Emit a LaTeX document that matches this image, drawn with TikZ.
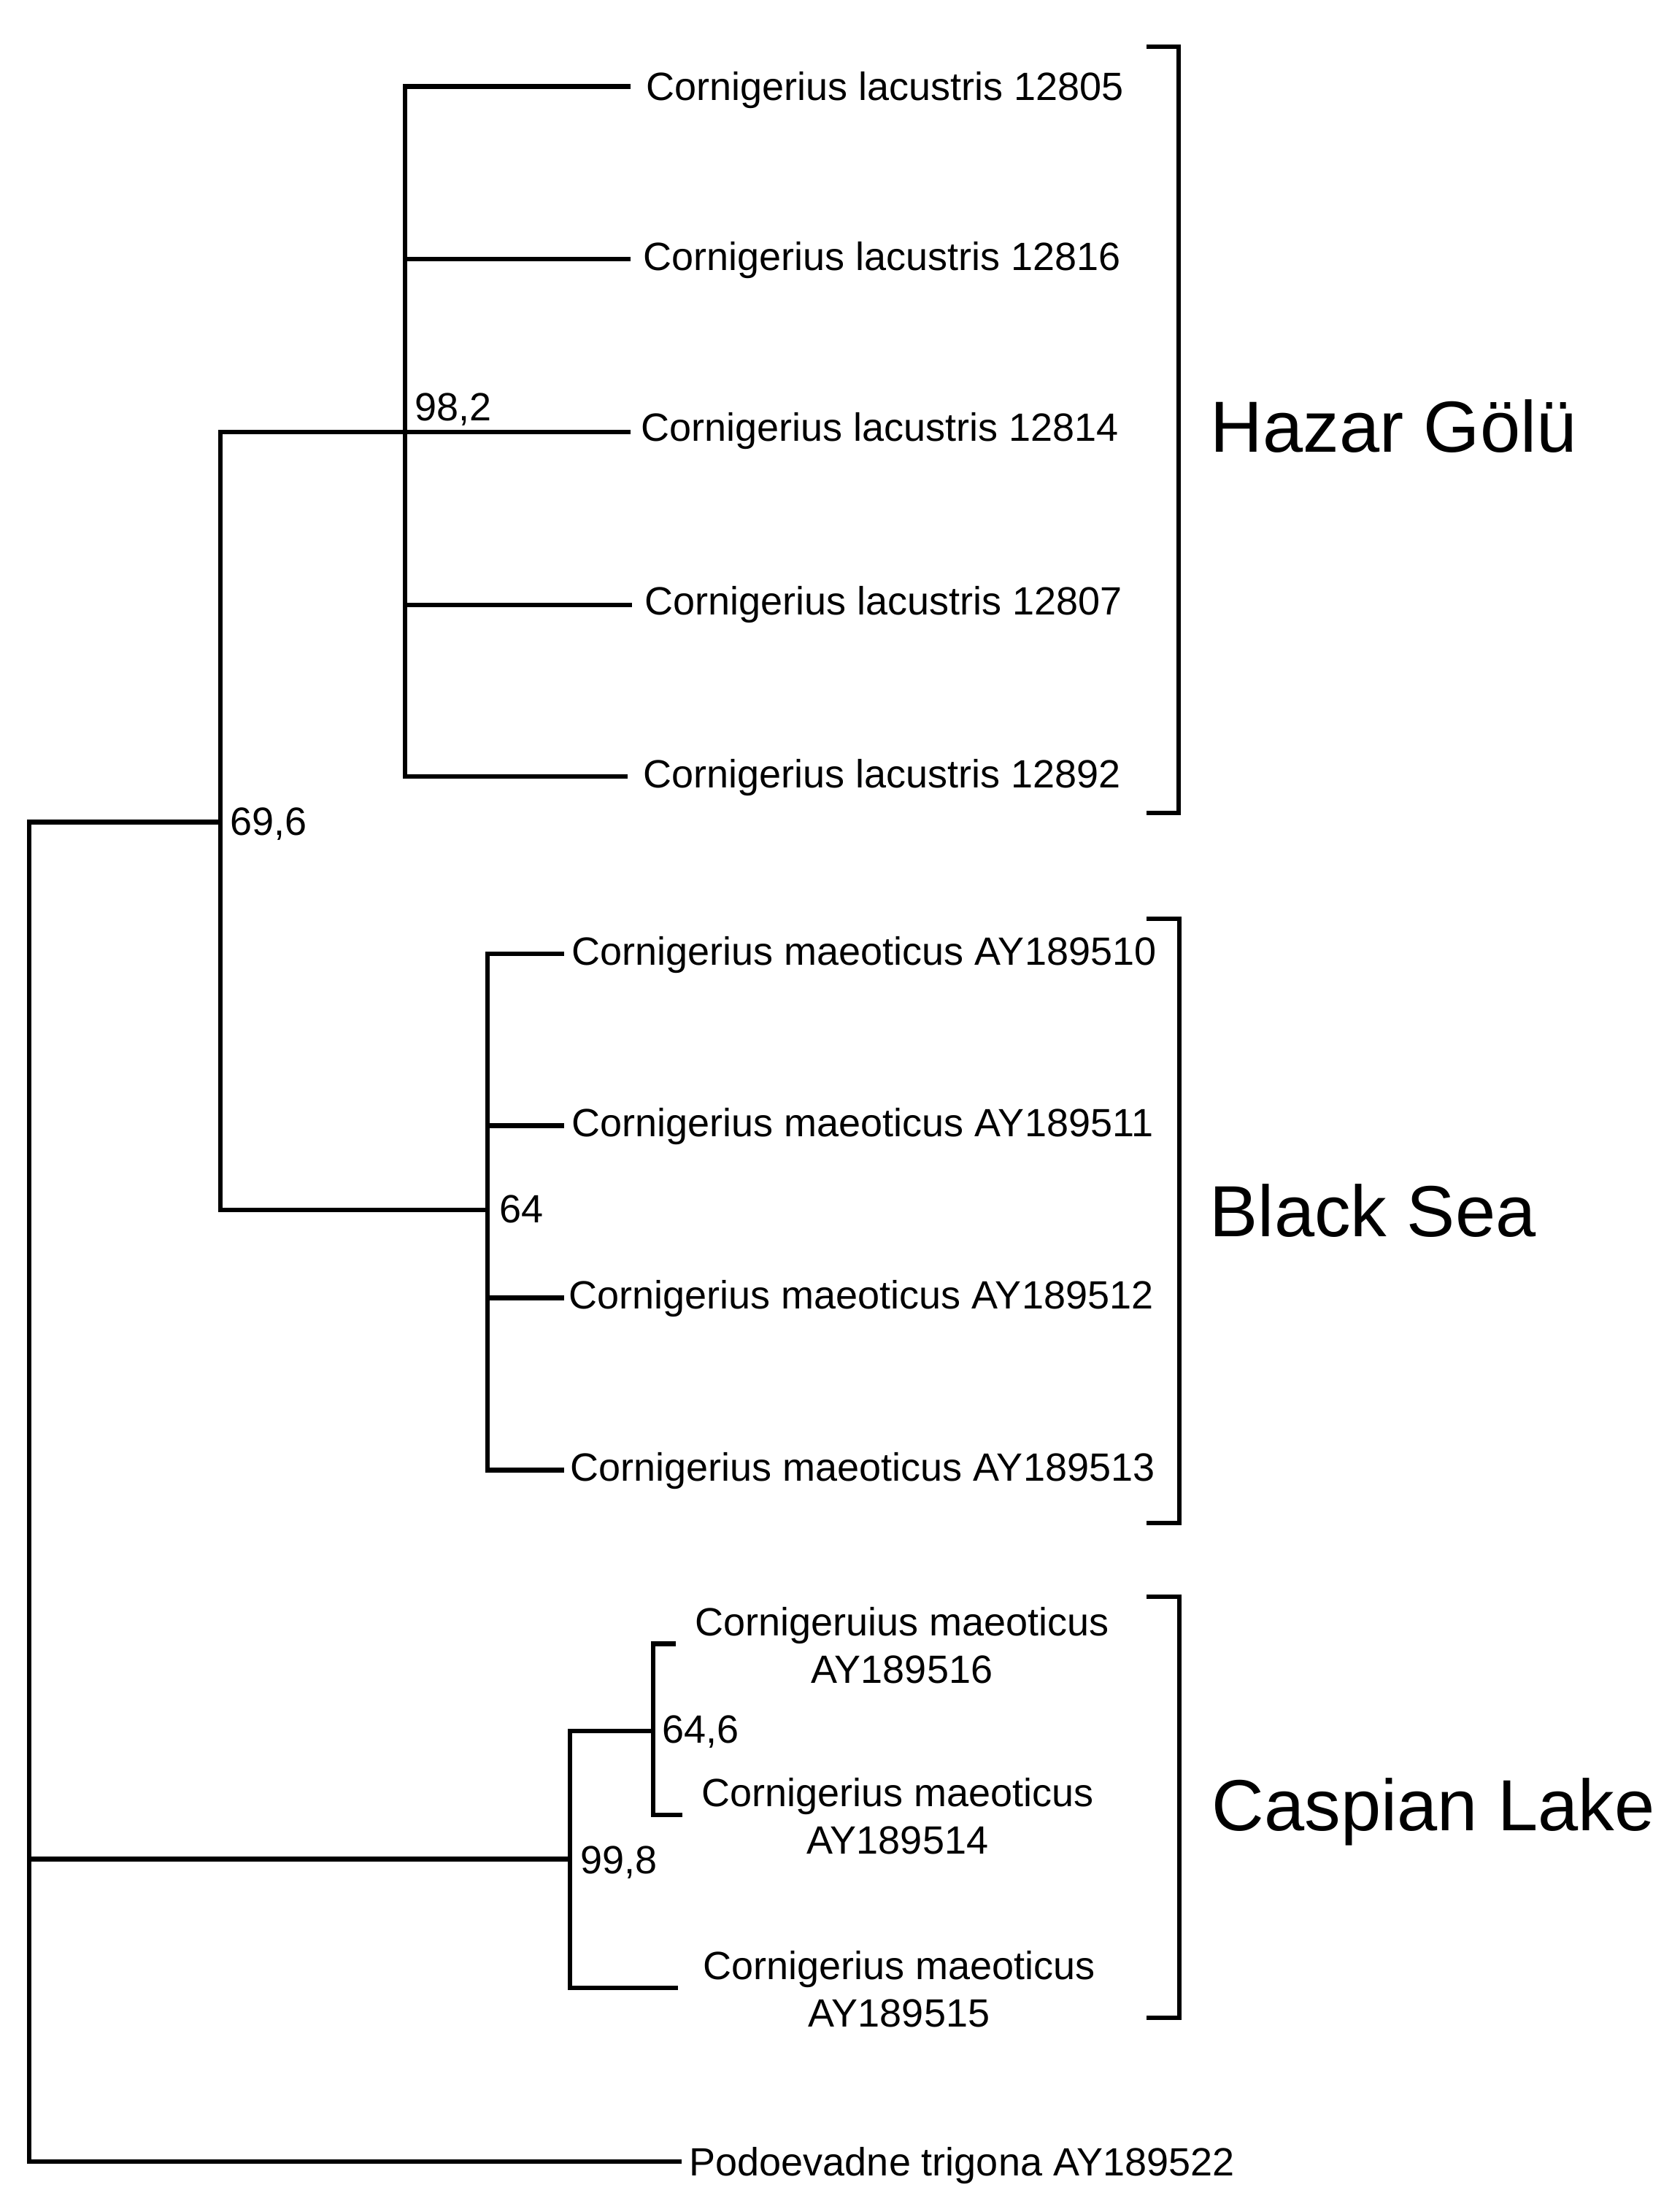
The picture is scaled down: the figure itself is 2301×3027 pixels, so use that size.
\documentclass[tikz,border=0pt]{standalone}
\usepackage{fontspec}
\setmainfont{Liberation Sans}
\newcommand\leaffont{\fontsize{13.5pt}{16.25pt}\selectfont}
\newcommand\grpfont{\fontsize{24.8pt}{29pt}\selectfont}
\tikzset{
  branch/.style={line width=1.6pt, line join=miter},
  brk/.style={line width=1.5pt, line join=miter},
  leaf/.style={anchor=base west, inner sep=0pt, font=\leaffont},
  leaftwo/.style={anchor=center, align=center, inner sep=0pt, font=\leaffont},
  boot/.style={anchor=base west, inner sep=0pt, font=\leaffont},
  grp/.style={anchor=base west, inner sep=0pt, font=\grpfont},
}
\begin{document}
\begin{tikzpicture}[x=0.25pt, y=-0.25pt]
\fill[white] (0,0) rectangle (2301,3027);
\useasboundingbox (0,0) rectangle (2301,3027);

% internal nodes
\coordinate (R) at (40,2547.5);
\coordinate (A) at (302,1126.5);
\coordinate (B) at (555,592);
\coordinate (C) at (668,1658);
\coordinate (D) at (781,2547.5);
\coordinate (E) at (895,2372);
% leaf tips
\coordinate (t1) at (864,118.6);
\coordinate (t2) at (864,355);
\coordinate (t3) at (864,592);
\coordinate (t4) at (866,828.8);
\coordinate (t5) at (860,1063.8);
\coordinate (t6) at (773,1307);
\coordinate (t7) at (773,1542.5);
\coordinate (t8) at (773,1778.5);
\coordinate (t9) at (773,2014.5);
\coordinate (t10) at (926,2252.5);
\coordinate (t11) at (935,2487.2);
\coordinate (t12) at (929,2723.7);
\coordinate (t13) at (934,2962);

% branches
\draw[branch] (R) |- (A);
\draw[branch] (R) -- (D);
\draw[branch] (R) |- (t13);
\draw[branch] (A) |- (B);
\draw[branch] (A) |- (C);
\draw[branch] (B) |- (t1);
\draw[branch] (B) |- (t2);
\draw[branch] (B) -- (t3);
\draw[branch] (B) |- (t4);
\draw[branch] (B) |- (t5);
\draw[branch] (C) |- (t6);
\draw[branch] (C) |- (t7);
\draw[branch] (C) |- (t8);
\draw[branch] (C) |- (t9);
\draw[branch] (D) |- (E);
\draw[branch] (D) |- (t12);
\draw[branch] (E) |- (t10);
\draw[branch] (E) |- (t11);

% leaf labels
\node[leaf] (n1) at (885,138) {Cornigerius lacustris 12805};
\node[leaf] (n2) at (881,371) {Cornigerius lacustris 12816};
\node[leaf] (n3) at (878,605) {Cornigerius lacustris 12814};
\node[leaf] (n4) at (883,842) {Cornigerius lacustris 12807};
\node[leaf] (n5) at (881,1079) {Cornigerius lacustris 12892};
\node[leaf] (n6) at (783,1322) {Cornigerius maeoticus AY189510};
\node[leaf] (n7) at (783,1557) {Cornigerius maeoticus AY189511};
\node[leaf] (n8) at (779,1793) {Cornigerius maeoticus AY189512};
\node[leaf] (n9) at (781,2029) {Cornigerius maeoticus AY189513};
\node[leaftwo] (n10) at (1236,2255) {Cornigeruius maeoticus\\AY189516};
\node[leaftwo] (n11) at (1230,2489) {Cornigerius maeoticus\\AY189514};
\node[leaftwo] (n12) at (1232,2726) {Cornigerius maeoticus\\AY189515};
\node[leaf] (n13) at (944,2981) {Podoevadne trigona AY189522};

% bootstrap values
\node[boot] (b1) at (568,577) {98,2};
\node[boot] (b2) at (315,1144) {69,6};
\node[boot] (b3) at (684,1675) {64};
\node[boot] (b4) at (795,2567) {99,8};
\node[boot] (b5) at (907,2388) {64,6};

% brackets
\coordinate (h1) at (1571,64.5);
\coordinate (h2) at (1571,1113.5);
\coordinate (k1) at (1571,1258.7);
\coordinate (k2) at (1571,2086.5);
\coordinate (c1) at (1571,2187.5);
\coordinate (c2) at (1571,2765);
\draw[brk] (h1) -- ++(44,0) |- (h2);
\draw[brk] (k1) -- ++(45,0) |- (k2);
\draw[brk] (c1) -- ++(45,0) |- (c2);

% group labels
\node[grp] (g1) at (1658,620) {Hazar Gölü};
\node[grp] (g2) at (1657,1694) {Black Sea};
\node[grp] (g3) at (1660,2508) {Caspian Lake};
\end{tikzpicture}
\end{document}
